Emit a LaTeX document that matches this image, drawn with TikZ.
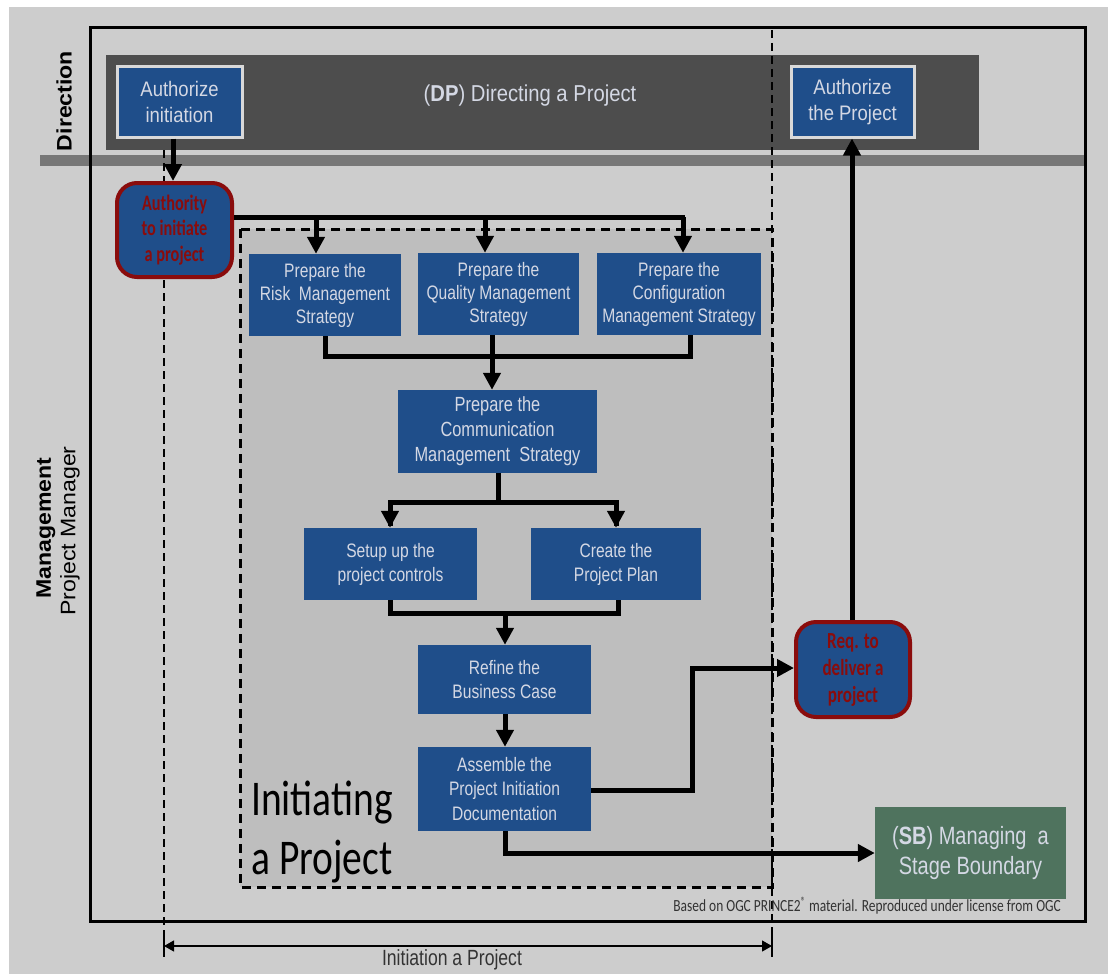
\documentclass[tikz,border=0pt]{standalone}
\usepackage{fontspec}
\setmainfont{Liberation Sans}
\newfontfamily\narrowfont[FakeStretch=0.80]{Liberation Sans}
\newfontfamily\slimfont[FakeStretch=0.88]{Liberation Sans}
\newfontfamily\widefont[FakeStretch=1.1]{Liberation Sans}
\newfontfamily\calnarrow[FakeStretch=0.79]{Carlito}
\newfontfamily\calevent[FakeStretch=0.74]{Carlito}
\usetikzlibrary{arrows.meta}

\definecolor{pagebg}{HTML}{CDCDCD}
\definecolor{initfill}{HTML}{BEBEBE}
\definecolor{dpband}{HTML}{4D4D4D}
\definecolor{sepgray}{HTML}{777777}
\definecolor{boxblue}{HTML}{1F4E8A}
\definecolor{boxtext}{HTML}{D4D8E4}
\definecolor{boxedge}{HTML}{D9D9D9}
\definecolor{evred}{HTML}{8A0C0C}
\definecolor{sbgreen}{HTML}{4F735E}
\definecolor{notegray}{HTML}{333333}

\tikzset{
  procbox/.style={fill=boxblue, text=boxtext, align=center, inner sep=0pt,
    font=\narrowfont\fontsize{19.5}{23}\selectfont},
  dpbox/.style={fill=boxblue, draw=boxedge, line width=3pt, text=boxtext,
    align=center, inner sep=0pt, font=\slimfont\fontsize{21}{26}\selectfont},
  eventbox/.style={fill=boxblue, draw=evred, line width=4pt, rounded corners=20pt,
    text=evred, align=center, inner sep=0pt, font=\calevent\bfseries\fontsize{22}{25.5}\selectfont},
  flow/.style={line width=5pt, line join=miter,
    -{Triangle[length=17pt,width=17pt]}},
  flowline/.style={line width=5pt, line join=miter},
  guide/.style={line width=1.1pt, dash pattern=on 8pt off 5pt},
}

\begin{document}
\begin{tikzpicture}[x=1pt,y=-1pt]
\useasboundingbox (0,0) rectangle (1108,974);

% page and frame
\fill[pagebg] (9,7) rectangle (1108,974);
\fill[dpband] (106,55) rectangle (979,150);
\fill[sepgray] (40,155) rectangle (1086,166);
\draw[line width=3pt] (90,28) rectangle (1085,921);

% initiation process area
\fill[initfill] (240,229) rectangle (772,887);
\draw[line width=3pt, dash pattern=on 9pt off 6pt] (240,229) rectangle (772,887);

% time-line guides
\coordinate (gl0) at (164,150);
\coordinate (gl1) at (164,957);
\coordinate (gr0) at (772,30);
\coordinate (gr1) at (772,957);
\draw[guide] (gl0) -- (gl1);
\draw[guide] (gr0) -- (gr1);

% lane labels
\node[rotate=90, font=\widefont\bfseries\fontsize{21}{24}\selectfont] (lblDir) at (64,101) {Direction};
\node[rotate=90, font=\widefont\bfseries\fontsize{21}{24}\selectfont] (lblMgmt) at (46,528) {Management};
\node[rotate=90, font=\widefont\fontsize{21}{24}\selectfont] (lblPM) at (70,531) {Project Manager};

% directing a project
\node[text=boxtext, font=\slimfont\fontsize{23}{26}\selectfont] (dp) at (530,96) {(\textbf{DP}) Directing a Project};
\node[dpbox, minimum width=125pt, minimum height=70pt] (authInit) at (179.5,102) {Authorize\\initiation};
\node[dpbox, minimum width=123pt, minimum height=70pt] (authProj) at (852.5,102) {Authorize\\the Project};

% events
\node[eventbox, minimum width=115pt, minimum height=94pt] (authority) at (174.5,230) {Authority\\to initiate\\a project};
\node[eventbox, minimum width=114pt, minimum height=95pt, font=\calevent\bfseries\fontsize{23}{27}\selectfont] (req) at (853,669.5) {Req. to\\deliver a\\project};

% activities
\node[procbox, minimum width=152pt, minimum height=82pt] (risk) at (325,295) {Prepare the\\Risk\ \ Management\\Strategy};
\node[procbox, minimum width=161pt, minimum height=82pt] (quality) at (498.5,294) {Prepare the\\Quality Management\\Strategy};
\node[procbox, minimum width=164pt, minimum height=82pt] (config) at (679,294) {Prepare the\\Configuration\\Management Strategy};
\node[procbox, minimum width=199pt, minimum height=83pt, font=\narrowfont\fontsize{20.5}{25}\selectfont] (comm) at (497.5,431.5) {Prepare the\\Communication\\Management\ \ Strategy};
\node[procbox, minimum width=173pt, minimum height=72pt, font=\narrowfont\fontsize{19.5}{24}\selectfont] (setup) at (390.5,564) {Setup up the\\project controls};
\node[procbox, minimum width=170pt, minimum height=72pt, font=\narrowfont\fontsize{19.5}{24}\selectfont] (plan) at (616,564) {Create the\\Project Plan};
\node[procbox, minimum width=173pt, minimum height=69pt, font=\narrowfont\fontsize{19.5}{24}\selectfont] (refine) at (504.5,679.5) {Refine the\\Business Case};
\node[procbox, minimum width=173pt, minimum height=84pt, font=\narrowfont\fontsize{19.5}{24.5}\selectfont] (pid) at (504.5,789) {Assemble the\\Project Initiation\\Documentation};

% managing a stage boundary
\node[fill=sbgreen, text=boxtext, align=center, inner sep=0pt, minimum width=191pt, minimum height=92pt,
  font=\narrowfont\fontsize{25}{30}\selectfont] (sb) at (970.5,853) {(\textbf{SB}) Managing\ \ a\\Stage Boundary};

% big area title
\node[anchor=north west, align=left, inner sep=0pt, font=\calnarrow\fontsize{50}{59}\selectfont] (initTitle) at (251,781) {Initiating\\a Project};

% footnote
\node[anchor=east, text=notegray, font=\calnarrow\fontsize{17}{18}\selectfont, inner sep=0pt] (note) at (1061,906) {Based on OGC PRINCE2\textsuperscript{\textregistered} material. Reproduced under license from OGC};

% flows
\draw[flow] (authInit.south -| 173,0) -- (authority.north -| 173,0);
\draw[flowline] (authority.east |- 0,217) -- (685,217);
\draw[flow] (316,217) -- (risk.north -| 316,0);
\draw[flow] (485,217) -- (quality.north -| 485,0);
\draw[flow] (683,217) -- (config.north -| 683,0);

\draw[flowline] (risk.south -| 325,0) |- (690,356) -- (config.south -| 690,0);
\draw[flowline] (quality.south -| 492,0) -- (492,356);
\draw[flow] (492,354) -- (comm.north -| 492,0);

\draw[flowline] (comm.south -| 498,0) -- (498,502);
\draw[flowline] (390,526) -- (390,502) -- (616,502) -- (616,526);
\draw[flow] (390,502) -- (setup.north -| 390,0);
\draw[flow] (616,502) -- (plan.north -| 616,0);

\draw[flowline] (setup.south -| 390,0) |- (618,613) -- (plan.south -| 618,0);
\draw[flow] (505,611) -- (refine.north -| 505,0);
\draw[flow] (refine.south -| 505,0) -- (pid.north -| 505,0);

\draw[flow] (pid.east |- 0,790) -| (692,668) -- (req.west |- 0,668);
\draw[flow] (req.north -| 852,0) -- (authProj.south -| 852,0);
\draw[flow] (pid.south -| 505,0) |- (sb.west |- 0,853);

% initiation time span
\coordinate (spanL) at (164,946);
\coordinate (spanR) at (772,946);
\draw[line width=1.2pt, {Triangle[length=10pt,width=11pt]}-{Triangle[length=10pt,width=11pt]}] (spanL) -- (spanR);
\draw[line width=1.8pt] (164,934) -- (164,957) (772,934) -- (772,957);
\node[font=\narrowfont\fontsize{22}{24}\selectfont, text=black!80] (spanLbl) at (452,960) {Initiation a Project};

\end{tikzpicture}
\end{document}
